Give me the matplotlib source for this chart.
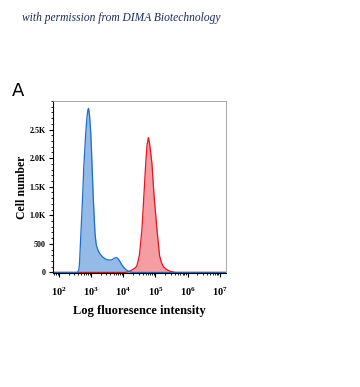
import numpy as np
import matplotlib
matplotlib.use("Agg")
from matplotlib import pyplot as plt
from matplotlib.ticker import FixedLocator, MultipleLocator, LogLocator, NullFormatter

plt.rcParams["mathtext.fontset"] = "custom"
plt.rcParams["mathtext.bf"] = "Liberation Serif:bold"

# histogram curves (log10 intensity, cell count)
blue_log = [1.81, 2.55, 2.59, 2.62, 2.64, 2.68, 2.73, 2.77, 2.83, 2.87, 2.90, 2.92,
            2.95, 2.99, 3.03, 3.07, 3.12, 3.16, 3.22, 3.28, 3.36, 3.43, 3.51, 3.59,
            3.66, 3.71, 3.76, 3.81, 3.86, 3.90, 3.95, 4.00, 4.07, 4.15, 4.22, 4.30, 7.20]
blue_cnt = [0, 0, 10, 60, 180, 680, 1260, 1840, 2430, 2720, 2850, 2870,
            2750, 2430, 1840, 1260, 680, 480, 380, 320, 270, 240, 220, 215,
            225, 245, 258, 255, 225, 185, 140, 100, 55, 25, 8, 0, 0]

red_log = [1.81, 4.06, 4.15, 4.22, 4.27, 4.35, 4.42, 4.50, 4.58, 4.64, 4.70, 4.74,
           4.78, 4.82, 4.89, 4.96, 5.05, 5.13, 5.19, 5.25, 5.35, 5.46, 5.62, 7.20]
red_cnt = [0, 0, 10, 30, 45, 70, 110, 290, 745, 1330, 1920, 2230,
           2360, 2250, 1920, 1330, 745, 290, 170, 100, 50, 20, 0, 0]

y_ticks = [0, 500, 1000, 1500, 2000, 2500]
y_labels = ["0", "500", "1.0K", "1.5K", "2.0K", "2.5K"]
x_decades = [2, 3, 4, 5, 6, 7]

serif = "Liberation Serif"

fig = plt.figure(figsize=(3.6, 3.87), dpi=100)
ax = fig.add_axes([0.147, 1 - 273 / 387, 0.481, 172 / 387])

bx = 10 ** np.array(blue_log)
rx = 10 ** np.array(red_log)

ax.fill_between(rx, red_cnt, color="#f5939a", alpha=0.9, lw=0)
ax.plot(rx, red_cnt, color="#e5141e", lw=0.9)
ax.fill_between(bx, blue_cnt, color="#88b3e6", alpha=0.9, lw=0)
ax.plot(bx, blue_cnt, color="#1e6ccc", lw=0.9)

ax.set_xscale("log")
ax.set_xlim(10 ** 1.81, 10 ** 7.2)
ax.set_ylim(-10, 3000)

ax.xaxis.set_major_locator(FixedLocator([10.0 ** d for d in x_decades]))
ax.xaxis.set_minor_locator(LogLocator(base=10, subs=np.arange(2, 10), numticks=20))
ax.xaxis.set_minor_formatter(NullFormatter())
ax.set_xticklabels([r"$\mathbf{10^{%d}}$" % d for d in x_decades])

ax.set_yticks(y_ticks)
ax.set_yticklabels(y_labels)
ax.yaxis.set_minor_locator(MultipleLocator(100))

ax.tick_params(which="major", direction="out", length=3, width=0.8, labelsize=5.8, pad=2)
ax.tick_params(which="minor", direction="out", length=1.5, width=0.6)
ax.tick_params(axis="x", pad=6, labelsize=7.5)
for lab in ax.get_yticklabels():
    lab.set_fontfamily(serif)
    lab.set_fontweight("bold")

for s in ["top", "right"]:
    ax.spines[s].set_color("#9a9a9a")
    ax.spines[s].set_linewidth(0.6)
ax.spines["left"].set_linewidth(0.8)
ax.spines["bottom"].set_linewidth(0.8)

ax.set_ylabel("Cell number", fontfamily=serif, fontweight="bold", fontsize=8.5, labelpad=1)
ax.set_xlabel("Log fluoresence intensity", fontfamily=serif, fontweight="bold", fontsize=9, labelpad=5)

fig.text(12 / 360, 1 - 96 / 387, "A", fontsize=13, fontfamily="DejaVu Sans")
fig.text(22 / 360, 1 - 21 / 387, "with permission from DIMA Biotechnology",
         fontsize=8.3, fontstyle="italic", fontfamily=serif, color="#1c2a5c")

fig.savefig("out.png", dpi=100)
